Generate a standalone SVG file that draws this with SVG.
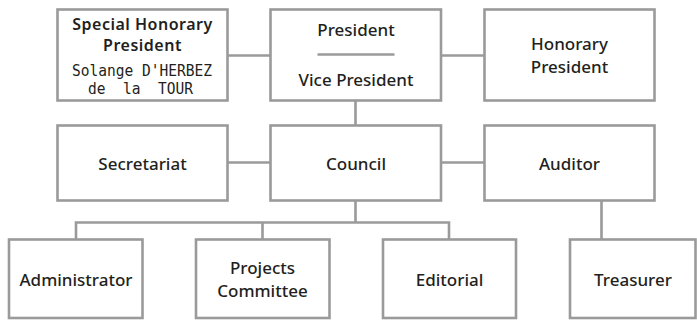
<svg xmlns="http://www.w3.org/2000/svg" width="697" height="320" viewBox="0 0 697 320">
<style>
.box{fill:#fff;stroke:#9a9a9a;stroke-width:2.6}
.ln{fill:none;stroke:#9a9a9a;stroke-width:2.6}
.t{font-family:"Noto Sans","Open Sans","Liberation Sans",sans-serif;font-size:17px;font-weight:500;fill:#231f20;text-anchor:middle}
.b{font-weight:600;font-size:16px;letter-spacing:0.5px}
.m{font-family:"DejaVu Sans Mono","Liberation Mono",monospace;font-size:16px;fill:#231f20;text-anchor:middle}
</style>
<rect width="697" height="320" fill="#fff"/>
<g id="connectors">
<path class="ln" d="M227.5 55.5H270.5M441 55.5H484.5M355.5 100.5V125.5M227.5 162.5H270.5M441 162.5H484.5M355.5 200.5V222.5M76 239.5V222.5H449V239.5M262.5 222.5V239.5M601.5 200.5V239.5"/>
</g>
<g id="special">
<rect class="box" x="57.5" y="9.5" width="170" height="91"/>
<text class="t b" x="142.5" y="30"><tspan x="142.5" y="30">Special Honorary</tspan><tspan x="142.5" y="50.5">President</tspan></text>
<g transform="translate(142 0) scale(0.91 1)">
<text class="m" x="0" y="76">Solange D'HERBEZ</text>
</g>
<g transform="translate(140.5 0) scale(0.91 1)">
<text class="m" x="0" y="94" word-spacing="9.6">de la TOUR</text>
</g>
</g>
<g id="president">
<rect class="box" x="270.5" y="9.5" width="170.5" height="91"/>
<text class="t" x="356" y="36">President</text>
<line class="ln" x1="317.5" y1="54.5" x2="394.5" y2="54.5"/>
<text class="t" x="356" y="86">Vice President</text>
</g>
<g id="honorary">
<rect class="box" x="484.5" y="9.5" width="170" height="91"/>
<text class="t" x="569.5" y="50"><tspan x="569.5" y="50">Honorary</tspan><tspan x="569.5" y="73">President</tspan></text>
</g>
<g id="secretariat">
<rect class="box" x="57.5" y="125.5" width="170" height="75"/>
<text class="t" x="142.5" y="170">Secretariat</text>
</g>
<g id="council">
<rect class="box" x="270.5" y="125.5" width="170.5" height="75"/>
<text class="t" x="356" y="170">Council</text>
</g>
<g id="auditor">
<rect class="box" x="484.5" y="125.5" width="170" height="75"/>
<text class="t" x="569.5" y="170">Auditor</text>
</g>
<g id="administrator">
<rect class="box" x="9" y="239.5" width="133.5" height="78.5"/>
<text class="t" x="76" y="286">Administrator</text>
</g>
<g id="projects">
<rect class="box" x="196" y="239.5" width="133.5" height="78.5"/>
<text class="t" x="262.5" y="274"><tspan x="262.5" y="274">Projects</tspan><tspan x="262.5" y="297">Committee</tspan></text>
</g>
<g id="editorial">
<rect class="box" x="383" y="239.5" width="133" height="78.5"/>
<text class="t" x="449.5" y="286">Editorial</text>
</g>
<g id="treasurer">
<rect class="box" x="570" y="239.5" width="125.5" height="78.5"/>
<text class="t" x="633" y="286">Treasurer</text>
</g>
</svg>
